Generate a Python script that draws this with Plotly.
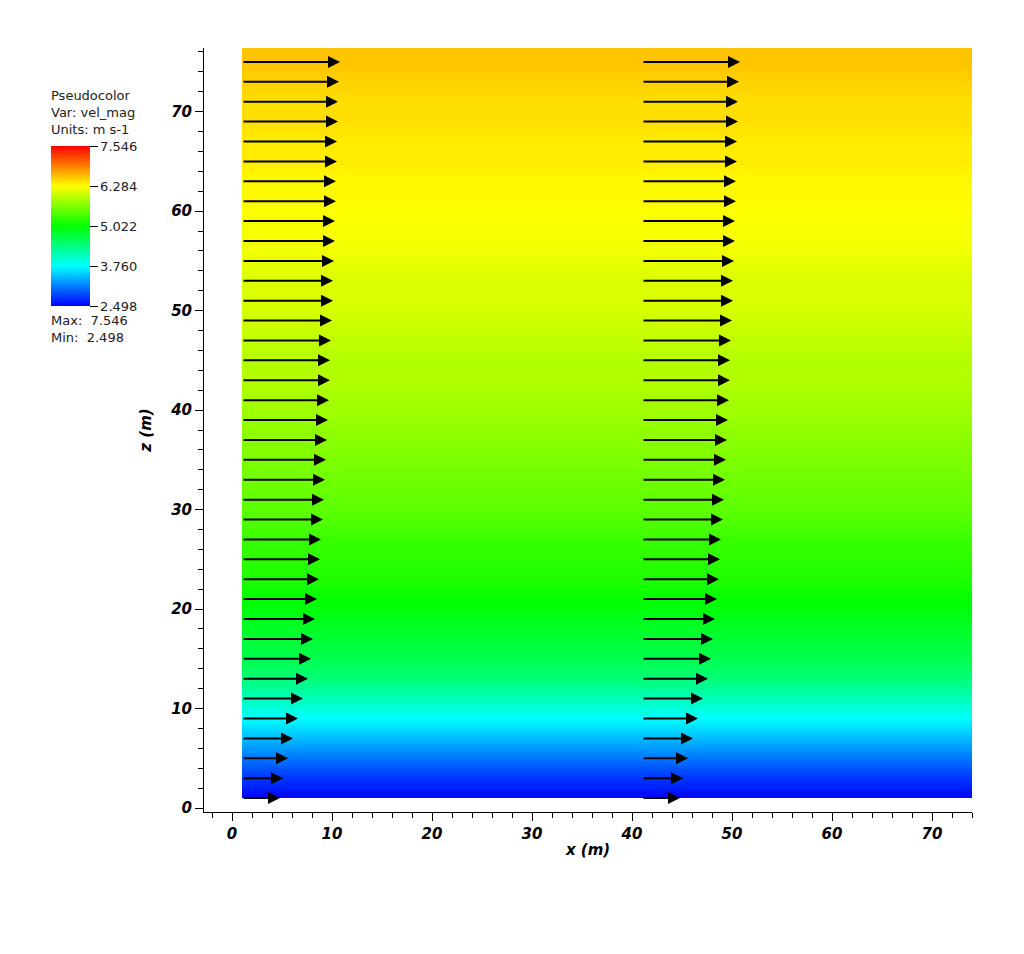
import plotly.graph_objects as go

z_levels = list(range(1, 76, 2))
tip_px = [280,283,288,293,298,303,308,311,313,315,317,319,320,321,323,324,325,326,327,328,
          329,330,330,331,332,333,333,334,335,335,336,336,337,337,338,338,339,340]
arrow_len = [(t - 242) / 10.0 for t in tip_px]
speed = [round(l / 1.49, 3) for l in arrow_len]
column_x0 = [1, 41]
vmin, vmax = 2.498, 7.546
cb_ticks = [2.498, 3.760, 5.022, 6.284, 7.546]
x_edges = [1, 37.5, 74]
y_edges = [1] + list(range(2, 75, 2)) + [76.4]

cs = [[0, "#0000ff"], [0.25, "#00ffff"], [0.5, "#00ff00"], [0.75, "#ffff00"], [1, "#ff0000"]]

L0, T0 = 196, 40
fig = go.Figure()
fig.add_trace(go.Heatmap(
    x=x_edges, y=y_edges, z=[[s, s] for s in speed],
    zmin=vmin, zmax=vmax, colorscale=cs, zsmooth="best",
    colorbar=dict(x=(43 - L0) / 768, xanchor="left", xref="paper", xpad=0, ypad=0,
                  y=1 - 98 / 764, yref="paper", yanchor="top", len=160, lenmode="pixels", thickness=39,
                  tickvals=cb_ticks, ticktext=[f"{v:.3f}" for v in cb_ticks],
                  ticks="outside", ticklen=8, tickcolor="black", outlinewidth=0,
                  tickfont=dict(family="DejaVu Sans", size=13, color="#222"))))

ann = []
for x0 in column_x0:
    for zl, L in zip(z_levels, arrow_len):
        ann.append(dict(x=x0 + L, y=zl, ax=x0, ay=zl, xref="x", yref="y", axref="x", ayref="y",
                        showarrow=True, arrowhead=2, arrowsize=1.2, arrowwidth=2,
                        arrowcolor="black", text=""))
fig.update_layout(annotations=ann)
fig.add_annotation(xref="paper", yref="paper", x=-155/768, y=(812-86)/764, xanchor="left", yanchor="top",
                   text="Pseudocolor<br>Var: vel_mag<br>Units: m s-1", showarrow=False, align="left",
                   font=dict(family="DejaVu Sans", size=13, color="#222"))
fig.add_annotation(xref="paper", yref="paper", x=-155/768, y=(812-311)/764, xanchor="left", yanchor="top",
                   text="Max:  7.546<br>Min:  2.498", showarrow=False, align="left",
                   font=dict(family="DejaVu Sans", size=13, color="#222"))

axfont = dict(family="DejaVu Sans", size=15, color="black", weight="bold", style="italic")
fig.update_layout(
    width=1024, height=954, margin=dict(l=L0, r=60, t=T0, b=150, autoexpand=False),
    plot_bgcolor="white", paper_bgcolor="white", showlegend=False,
    xaxis=dict(range=[-2.8, 74], tickvals=list(range(0, 71, 10)), showgrid=False, zeroline=False,
               showline=True, linecolor="black", ticks="outside", ticklen=8, tickcolor="black",
               minor=dict(dtick=2, ticks="outside", ticklen=5, tickcolor="black"),
               tickfont=axfont, title=dict(text="x (m)", font=axfont, standoff=2)),
    yaxis=dict(range=[-0.4, 76.4], tickvals=list(range(0, 71, 10)), showgrid=False, zeroline=False,
               showline=True, linecolor="black", ticks="outside", ticklen=8, tickcolor="black",
               minor=dict(dtick=2, ticks="outside", ticklen=5, tickcolor="black"),
               tickfont=axfont, title=dict(text="z (m)", font=axfont, standoff=14)),
)
fig.write_html("out.html")
